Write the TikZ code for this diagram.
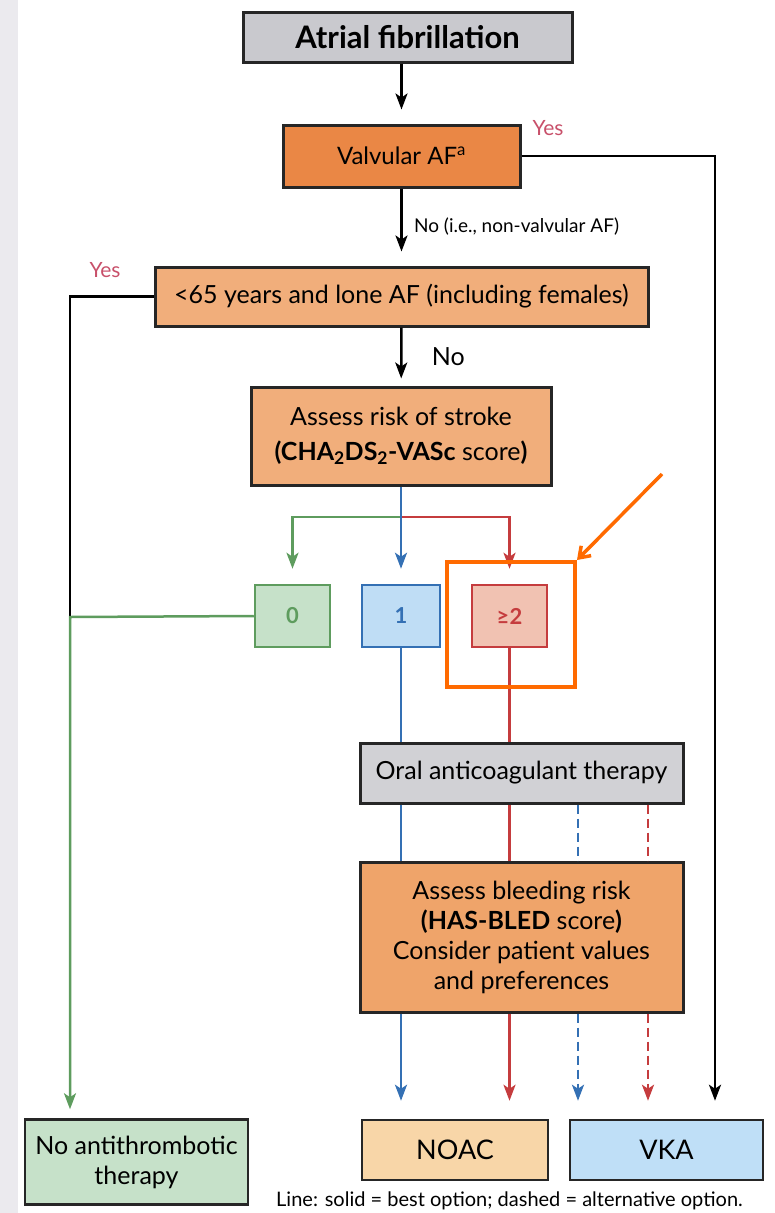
\documentclass[tikz,border=0pt]{standalone}
\usepackage{fontspec}
\setmainfont{Lato}
\usetikzlibrary{arrows.meta}

\definecolor{boxgray}{HTML}{C9C9CE}
\definecolor{orangedark}{HTML}{EA8745}
\definecolor{orangelight}{HTML}{F1AE7B}
\definecolor{orangemid}{HTML}{EFA46A}
\definecolor{noacfill}{HTML}{F8D6A8}
\definecolor{vkafill}{HTML}{BFDFF7}
\definecolor{greenfill}{HTML}{C6E1C9}
\definecolor{greenline}{HTML}{5E9C5E}
\definecolor{bluefill}{HTML}{BFDDF5}
\definecolor{blueline}{HTML}{3470B4}
\definecolor{redfill}{HTML}{F1C2B2}
\definecolor{redline}{HTML}{C53C3E}
\definecolor{yesred}{HTML}{C8506A}
\definecolor{hilite}{HTML}{FF6A00}
\definecolor{stripgray}{HTML}{EBEAEE}

\tikzset{
  flowbox/.style={draw=black!85, line width=3pt, align=center, inner sep=0pt,
    font=\fontsize{25}{30}\selectfont},
  scorebox/.style={line width=2.5pt, inner sep=0pt, minimum width=75pt,
    minimum height=62pt, font=\fontsize{22}{26}\selectfont\bfseries},
  arr/.style={line width=2.5pt, -{Stealth[length=16pt,width=12pt,inset=4pt]}},
  yeslabel/.style={text=yesred, font=\fontsize{21}{24}\selectfont}
}

\begin{document}
\begin{tikzpicture}[x=1pt, y=-1pt]
\useasboundingbox (0,0) rectangle (774,1213);
\fill[stripgray] (0,0) rectangle (18,1213);

% boxes
\node[flowbox, fill=boxgray, minimum width=329pt, minimum height=50pt,
  font=\fontsize{31}{34}\selectfont\bfseries] (af) at (407.5,37) {Atrial fibrillation};
\node[flowbox, fill=orangedark, minimum width=237pt, minimum height=62pt,
  font=\fontsize{24}{28}\selectfont] (valv) at (401.5,156) {Valvular AF\textsuperscript{a}};
\node[flowbox, fill=orangelight, minimum width=493pt, minimum height=59pt] (lone) at (401.5,296.5)
  {<65 years and lone AF (including females)};
\node[flowbox, fill=orangelight, minimum width=300pt, minimum height=98pt,
  font=\fontsize{25}{35}\selectfont] (stroke) at (401,436)
  {Assess risk of stroke\\ \textbf{(CHA\textsubscript{2}DS\textsubscript{2}-VASc} score\textbf{)}};

\node[scorebox, draw=greenline, fill=greenfill, text=greenline] (s0) at (292.5,616) {0};
\node[scorebox, draw=blueline, fill=bluefill, text=blueline, minimum width=78pt] (s1) at (401,616) {1};
\node[scorebox, draw=redline, fill=redfill, text=redline] (s2) at (509.5,616) {≥2};

\node[flowbox, fill=boxgray!85, minimum width=323pt, minimum height=60pt] (oral) at (521.5,773)
  {Oral anticoagulant therapy};
\node[flowbox, fill=orangemid, minimum width=323pt, minimum height=150pt] (bleed) at (521.5,937)
  {Assess bleeding risk\\ \textbf{(HAS-BLED} score\textbf{)}\\ Consider patient values\\ and preferences};

\node[flowbox, line width=2.5pt, fill=noacfill, minimum width=186pt, minimum height=60pt,
  font=\fontsize{27}{30}\selectfont] (noac) at (455,1150) {NOAC};
\node[flowbox, line width=2.5pt, fill=vkafill, minimum width=193pt, minimum height=60pt,
  font=\fontsize{27}{30}\selectfont] (vka) at (666.5,1150) {VKA};
\node[flowbox, line width=2.5pt, fill=greenfill, minimum width=223pt, minimum height=85pt] (none) at (136.5,1162)
  {No antithrombotic\\ therapy};

\node[anchor=base west, inner sep=0pt, font=\fontsize{20}{22}\selectfont] (note) at (276,1206)
  {Line: solid = best option; dashed = alternative option.};

% black connectors
\draw[arr, shorten >=14pt] (valv |- af.south) -- (valv);
\draw[arr, shorten >=14pt] (valv) -- node[right, xshift=8pt, font=\fontsize{19}{22}\selectfont] (nolab) {No (i.e., non-valvular AF)} (lone);
\draw[arr, shorten >=7pt] (lone) -- node[right, xshift=26pt, font=\fontsize{25}{28}\selectfont] (nolab2) {No} (stroke);
\coordinate (vr) at (715,156);
\draw[arr, shorten >=18pt] (valv.east) -- (vr) -- (vr |- vka.north);
\node[yeslabel] (yes1) at (548,128) {Yes};
\coordinate (jn) at (70,617);
\draw[line width=2.5pt] (lone.west) -- (jn |- lone.west) -- (jn);
\node[yeslabel] (yes2) at (105,270) {Yes};

% score branches
\coordinate (br) at (401,517);
\draw[arr, greenline, shorten >=15pt] (br) -- (s0.north |- br) -- (s0.north);
\draw[arr, redline, shorten >=15pt] (br) -- (s2.north |- br) -- (s2.north);
\draw[arr, blueline, shorten >=15pt] (stroke.south) -- (s1.north);
\draw[arr, greenline, shorten >=9pt] (s0.west) -- (jn) -- (jn |- none.north);

% therapy columns
\draw[line width=2.5pt, blueline] (s1.south) -- (s1.south |- oral.north);
\draw[line width=2.5pt, redline] (s2.south) -- (s2.south |- oral.north);
\draw[line width=2.5pt, blueline] (s1.south |- oral.south) -- (s1.south |- bleed.north);
\draw[line width=2.5pt, redline] (s2.south |- oral.south) -- (s2.south |- bleed.north);
\draw[arr, blueline, shorten >=18pt] (s1.south |- bleed.south) -- (s1.south |- noac.north);
\draw[arr, redline, shorten >=18pt] (s2.south |- bleed.south) -- (s2.south |- noac.north);
\coordinate (db) at (578,0);
\coordinate (dr) at (648,0);
\draw[line width=2.5pt, blueline, dash pattern=on 9pt off 5pt] (db |- oral.south) -- (db |- bleed.north);
\draw[line width=2.5pt, redline, dash pattern=on 9pt off 5pt] (dr |- oral.south) -- (dr |- bleed.north);
\draw[arr, blueline, dash pattern=on 9pt off 5pt, shorten >=18pt] (db |- bleed.south) -- (db |- vka.north);
\draw[arr, redline, dash pattern=on 9pt off 5pt, shorten >=18pt] (dr |- bleed.south) -- (dr |- vka.north);

% highlight
\node[draw=hilite, line width=4pt, minimum width=128pt, minimum height=125pt] (hl) at (511,624.5) {};
\coordinate (hlstart) at (662,474);
\draw[hilite, line width=3.5pt, -{Straight Barb[length=10pt,width=14pt]}] (hlstart) -- (hl.north east);
\end{tikzpicture}
\end{document}
